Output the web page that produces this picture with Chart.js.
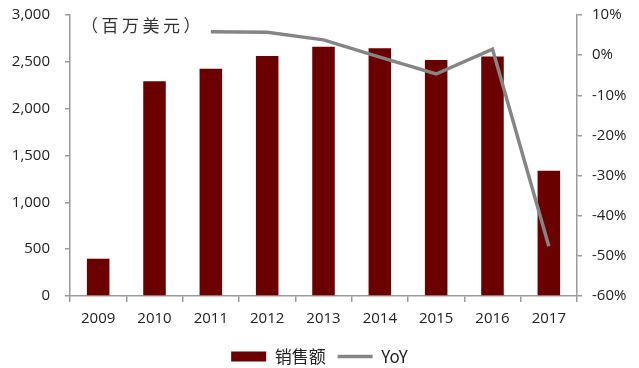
<!DOCTYPE html>
<html>
<head>
<meta charset="utf-8">
<script src="https://cdn.jsdelivr.net/npm/chart.js@4"></script>
<style>
  html, body { margin: 0; background: #fff; overflow: hidden; }
  .wrap { position: relative; width: 639px; height: 368px; overflow: hidden; }
  .unit {
    position: absolute; left: 81px; top: 15px;
    font: 17px "Noto Sans CJK SC"; color: #333; letter-spacing: 3.5px;
    line-height: 1.2;
  }
</style>
</head>
<body>
<div class="wrap">
  <canvas id="myChart" width="639" height="375"></canvas>
  <div class="unit">（百万美元）</div>
</div>
<script>
let years = ["2009", "2010", "2011", "2012", "2013", "2014", "2015", "2016", "2017"];
let sales = [398, 2293, 2425, 2563, 2660, 2645, 2519, 2557, 1338];
let yoy = [null, null, 5.8, 5.7, 3.8, -0.5, -4.7, 1.5, -47.6];

let axisGray = "#9a9a9a";
let tickFont = { family: "Open Sans", size: 15 };

// keep the big tick padding from pushing the plot area down
function fixSide(s, w) {
  s.width = w;
  s.paddingTop = 9;
  s.paddingBottom = 9;
}

const ctx = document.getElementById("myChart");
new Chart(ctx, {
  data: {
    labels: years,
    datasets: [
      {
        type: "line",
        label: "YoY",
        data: yoy,
        yAxisID: "y1",
        borderColor: "#858585",
        borderWidth: 3.5,
        pointRadius: 0,
        pointStyle: "line",
        pointBorderColor: "#858585",
        pointBorderWidth: 3.5,
        tension: 0,
        order: 0,
      },
      {
        type: "bar",
        label: "销售额",
        data: sales,
        yAxisID: "y",
        backgroundColor: "#6b0000",
        pointStyle: "rect",
        barPercentage: 0.4,
        categoryPercentage: 1,
        order: 1,
      },
    ],
  },
  options: {
    responsive: false,
    animation: false,
    layout: { padding: { top: 15, left: 0, right: 0, bottom: 0 } },
    plugins: {
      legend: {
        position: "bottom",
        reverse: true,
        labels: {
          usePointStyle: true,
          pointStyleWidth: 35,
          boxHeight: 10,
          padding: 12,
          color: "#222",
          font: { family: "Noto Sans CJK SC", size: 17 },
        },
      },
      tooltip: { enabled: false },
    },
    scales: {
      x: {
        grid: { display: true, drawOnChartArea: false, offset: true, tickLength: 6, color: axisGray, lineWidth: 1.5 },
        border: { color: axisGray, width: 1.5 },
        ticks: { color: "#222", font: tickFont, padding: 8, maxRotation: 0 },
        afterFit: (s) => { s.height = 40; },
      },
      y: {
        position: "left",
        min: 0,
        max: 3000,
        grid: { display: true, drawOnChartArea: false, tickLength: 5, color: axisGray, lineWidth: 1.5 },
        border: { color: axisGray, width: 1.5 },
        ticks: {
          stepSize: 500,
          color: "#222",
          font: tickFont,
          padding: 15,
          callback: (v) => v.toLocaleString("en-US"),
        },
        afterFit: (s) => fixSide(s, 70),
      },
      y1: {
        position: "right",
        min: -60,
        max: 10,
        grid: { display: true, drawOnChartArea: false, tickLength: 5, color: axisGray, lineWidth: 1.5 },
        border: { color: axisGray, width: 1.5 },
        ticks: {
          stepSize: 10,
          color: "#222",
          font: tickFont,
          padding: 10,
          callback: (v) => v + "%",
        },
        afterFit: (s) => fixSide(s, 62),
      },
    },
  },
});
</script>
</body>
</html>
